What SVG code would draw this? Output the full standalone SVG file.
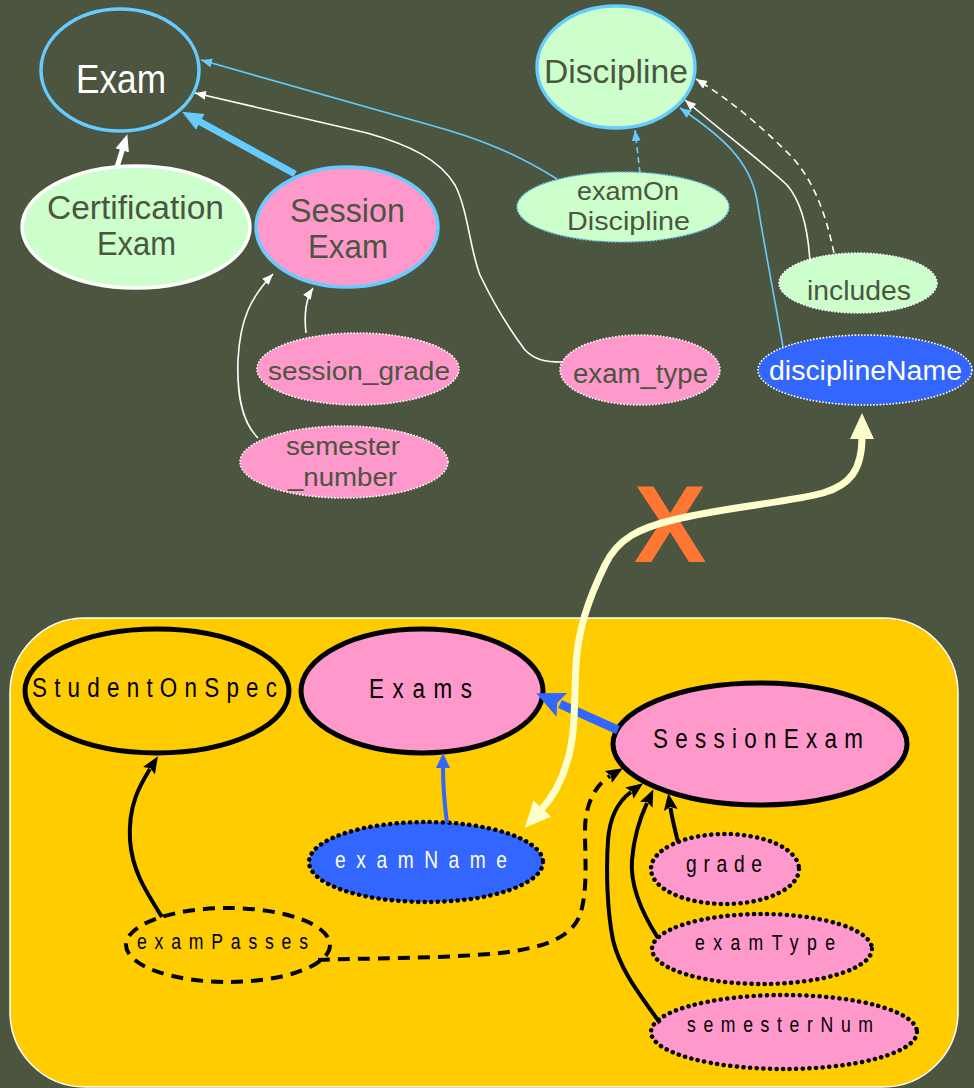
<svg xmlns="http://www.w3.org/2000/svg" width="974" height="1088" viewBox="0 0 974 1088">
  <defs>
    <style>
      .top { font-family: "Liberation Sans Narrow", "Liberation Sans", Arial, sans-serif; text-anchor: middle; }
      .dark { fill: #4b5540; }
      .light { fill: #ffffff; }
      .bot { font-family: "Liberation Sans Narrow", "Liberation Sans", Arial, sans-serif; text-anchor: middle; fill: #000; }
      .thin { fill: none; stroke-width: 1.6; }
      .wire { fill: none; stroke: #000; stroke-width: 4; }
      .dotW { stroke: #ffffff; stroke-width: 1.6; stroke-dasharray: 1.6 1.6; }
      .dotB { stroke: #66ccff; stroke-width: 1.6; stroke-dasharray: 1.6 1.6; }
      .dotK { stroke: #000; stroke-width: 4.5; stroke-dasharray: 0.1 6.5; stroke-linecap: round; }
    </style>
    <!-- small heads: tip sits on the path end -->
    <marker id="hW" markerWidth="12" markerHeight="10" refX="11" refY="4.5" orient="auto" markerUnits="userSpaceOnUse"><path d="M0,0 L11,4.5 L0,9 z" fill="#ffffff"/></marker>
    <marker id="hB" markerWidth="12" markerHeight="10" refX="11" refY="4.5" orient="auto" markerUnits="userSpaceOnUse"><path d="M0,0 L11,4.5 L0,9 z" fill="#66ccff"/></marker>
    <!-- large heads: base sits on the path end -->
    <marker id="hWL" markerWidth="18" markerHeight="16" refX="1" refY="7" orient="auto" markerUnits="userSpaceOnUse"><path d="M0,0 L17,7 L0,14 z" fill="#ffffff"/></marker>
    <marker id="hBL" markerWidth="22" markerHeight="20" refX="1" refY="9" orient="auto" markerUnits="userSpaceOnUse"><path d="M0,0 L21,9 L0,18 z" fill="#66ccff"/></marker>
    <marker id="hK" markerWidth="18" markerHeight="16" refX="2" refY="7" orient="auto" markerUnits="userSpaceOnUse"><path d="M0,0 L17,7 L0,14 L3,7 z" fill="#000"/></marker>
    <marker id="hN" markerWidth="16" markerHeight="16" refX="1" refY="7" orient="auto" markerUnits="userSpaceOnUse"><path d="M0,0 L15,7 L0,14 z" fill="#3366ff"/></marker>
    <marker id="hNL" markerWidth="30" markerHeight="28" refX="2" refY="13" orient="auto" markerUnits="userSpaceOnUse"><path d="M0,0 L28,13 L0,26 L5,13 z" fill="#3366ff"/></marker>
    <marker id="hC" markerWidth="28" markerHeight="26" refX="2" refY="12" orient="auto-start-reverse" markerUnits="userSpaceOnUse"><path d="M0,0 L26,12 L0,24 z" fill="#ffffcc"/></marker>
  </defs>

  <!-- backdrop and lower panel -->
  <rect x="0" y="0" width="974" height="1088" fill="#4b5540"/>
  <rect x="10" y="618" width="948" height="469" rx="75" ry="75" fill="#ffcc00" stroke="#ffffff" stroke-width="1.5"/>

  <!-- upper model -->
  <g id="Exam">
    <ellipse cx="120" cy="70" rx="79" ry="61" fill="#4b5540" stroke="#66ccff" stroke-width="3.5"/>
    <text class="top light" x="121" y="93" font-size="41" textLength="90" lengthAdjust="spacingAndGlyphs">Exam</text>
  </g>
  <g id="CertificationExam">
    <ellipse cx="136" cy="227" rx="114" ry="61" fill="#ccffcc" stroke="#ffffff" stroke-width="3.5"/>
    <text class="top dark" x="135.5" y="219" font-size="33" textLength="177" lengthAdjust="spacingAndGlyphs">Certification</text>
    <text class="top dark" x="136.5" y="255" font-size="33" textLength="79" lengthAdjust="spacingAndGlyphs">Exam</text>
  </g>
  <g id="SessionExamTop">
    <ellipse cx="347" cy="227" rx="91" ry="60" fill="#ff99cc" stroke="#66ccff" stroke-width="3.5"/>
    <text class="top dark" x="347.5" y="222" font-size="34" textLength="115" lengthAdjust="spacingAndGlyphs">Session</text>
    <text class="top dark" x="348" y="258" font-size="34" textLength="80" lengthAdjust="spacingAndGlyphs">Exam</text>
  </g>
  <g id="Discipline">
    <ellipse cx="616" cy="67" rx="79" ry="61" fill="#ccffcc" stroke="#66ccff" stroke-width="3.5"/>
    <text class="top dark" x="616" y="83" font-size="33" textLength="144" lengthAdjust="spacingAndGlyphs">Discipline</text>
  </g>
  <g id="examOnDiscipline">
    <ellipse cx="623" cy="207" rx="106" ry="35" fill="#ccffcc" class="dotB"/>
    <text class="top dark" x="628" y="200" font-size="25" textLength="102" lengthAdjust="spacingAndGlyphs">examOn</text>
    <text class="top dark" x="628.5" y="230" font-size="25" textLength="123" lengthAdjust="spacingAndGlyphs">Discipline</text>
  </g>
  <g id="includes">
    <ellipse cx="858" cy="283" rx="79" ry="30" fill="#ccffcc" class="dotW"/>
    <text class="top dark" x="859" y="300" font-size="28" textLength="104" lengthAdjust="spacingAndGlyphs">includes</text>
  </g>
  <g id="disciplineName">
    <ellipse cx="865" cy="370" rx="107" ry="35" fill="#3366ff" class="dotW"/>
    <text class="top light" x="865.5" y="380" font-size="27" textLength="193" lengthAdjust="spacingAndGlyphs">disciplineName</text>
  </g>
  <g id="exam_type">
    <ellipse cx="640" cy="370" rx="80" ry="35" fill="#ff99cc" class="dotW"/>
    <text class="top dark" x="640.5" y="383" font-size="27" textLength="135" lengthAdjust="spacingAndGlyphs">exam_type</text>
  </g>
  <g id="session_grade">
    <ellipse cx="358" cy="369" rx="101" ry="36" fill="#ff99cc" class="dotW"/>
    <text class="top dark" x="359" y="380" font-size="26" textLength="182" lengthAdjust="spacingAndGlyphs">session_grade</text>
  </g>
  <g id="semester_number">
    <ellipse cx="344" cy="462" rx="104" ry="36" fill="#ff99cc" class="dotW"/>
    <text class="top dark" x="343" y="455" font-size="26" textLength="114" lengthAdjust="spacingAndGlyphs">semester</text>
    <text class="top dark" x="342.5" y="486" font-size="26" textLength="109" lengthAdjust="spacingAndGlyphs">_number</text>
  </g>

  <!-- lower model: labels use narrowed, widely tracked glyphs -->
  <g id="StudentOnSpec">
    <ellipse cx="157" cy="691" rx="132" ry="62" fill="none" stroke="#000" stroke-width="5"/>
    <text class="bot" transform="scale(0.8,1)" x="193.1" y="697" font-size="28" textLength="306.3">StudentOnSpec</text>
  </g>
  <g id="Exams">
    <ellipse cx="422" cy="691" rx="121" ry="62" fill="#ff99cc" stroke="#000" stroke-width="5"/>
    <text class="bot" transform="scale(0.8,1)" x="525.6" y="698" font-size="28" textLength="128.8">Exams</text>
  </g>
  <g id="SessionExam">
    <ellipse cx="760" cy="744" rx="147" ry="61" fill="#ff99cc" stroke="#000" stroke-width="5"/>
    <text class="bot" transform="scale(0.8,1)" x="947.5" y="748" font-size="28" textLength="262.5">SessionExam</text>
  </g>
  <g id="examName">
    <ellipse cx="426" cy="862" rx="117" ry="40" fill="#3366ff" class="dotK"/>
    <text class="bot" transform="scale(0.8,1)" x="526.3" y="868" font-size="24" textLength="215" style="fill:#ffffff">examName</text>
  </g>
  <g id="examPasses">
    <ellipse cx="228" cy="945" rx="102" ry="37" fill="none" stroke="#000" stroke-width="4" stroke-dasharray="12 8"/>
    <text class="bot" transform="scale(0.8,1)" x="278.1" y="949" font-size="22" textLength="213.8">examPasses</text>
  </g>
  <g id="grade">
    <ellipse cx="725" cy="869" rx="74" ry="35" fill="#ff99cc" class="dotK"/>
    <text class="bot" transform="scale(0.8,1)" x="905" y="872" font-size="24" textLength="95">grade</text>
  </g>
  <g id="examType">
    <ellipse cx="762" cy="949" rx="110" ry="35" fill="#ff99cc" class="dotK"/>
    <text class="bot" transform="scale(0.8,1)" x="956.3" y="950" font-size="22" textLength="175">examType</text>
  </g>
  <g id="semesterNum">
    <ellipse cx="784" cy="1032" rx="133" ry="37" fill="#ff99cc" class="dotK"/>
    <text class="bot" transform="scale(0.8,1)" x="975" y="1032" font-size="22" textLength="232.5">semesterNum</text>
  </g>

  <!-- crossed-out mapping mark -->
  <text id="mismatch" x="670" y="562" font-family="Liberation Sans, Arial, sans-serif" font-weight="bold" font-size="109" fill="#ff7733" text-anchor="middle">X</text>

  <g id="connectors">
    <!-- upper: subclass links -->
    <path d="M117,167 L122.5,149.5" fill="none" stroke="#ffffff" stroke-width="5" marker-end="url(#hWL)"/>
    <path d="M295,174 L199.5,121.5" fill="none" stroke="#66ccff" stroke-width="7" marker-end="url(#hBL)"/>
    <!-- upper: property links -->
    <path class="thin" stroke="#66ccff" d="M557,179 C520,156 485,140 430,125 L201,60" marker-end="url(#hB)"/>
    <path class="thin" stroke="#ffffff" d="M562,362 C545,362 535,360 525,350 C510,330 492,300 480,275 C470,250 468,210 455,185 C440,160 410,145 367,133 L195,93" marker-end="url(#hW)"/>
    <path class="thin" stroke="#ffffff" d="M306,333 C304,315 305,300 313,288" marker-end="url(#hW)"/>
    <path class="thin" stroke="#ffffff" d="M258,438 C240,420 237,390 238,360 C240,320 250,298 273,274" marker-end="url(#hW)"/>
    <path class="thin" stroke="#66ccff" stroke-dasharray="6 4" d="M640,173 L635,130" marker-end="url(#hB)"/>
    <path class="thin" stroke="#66ccff" d="M783,347 C775,300 765,250 757,200 C750,160 720,135 680,108" marker-end="url(#hB)"/>
    <path class="thin" stroke="#ffffff" d="M810,263 C808,225 800,200 787,185 C760,160 720,130 685,100" marker-end="url(#hW)"/>
    <path class="thin" stroke="#ffffff" stroke-dasharray="7 5" d="M834,253 C825,210 812,178 790,155 C760,125 730,100 696,79" marker-end="url(#hW)"/>

    <!-- lower: subclass and attribute links -->
    <path d="M618,730 L560,704" fill="none" stroke="#3366ff" stroke-width="9" marker-end="url(#hNL)"/>
    <path d="M447,823 C444,800 443,785 443,767" fill="none" stroke="#3366ff" stroke-width="4" marker-end="url(#hN)"/>
    <path class="wire" d="M678,842 C675,830 672,818 670.5,808" marker-end="url(#hK)"/>
    <path class="wire" d="M658,938 C640,910 630,885 632,860 C634,835 640,818 647,803" marker-end="url(#hK)"/>
    <path class="wire" d="M660,1023 C640,995 620,970 613,940 C607,910 606,870 608,840 C610,815 620,800 631,792" marker-end="url(#hK)"/>
    <path class="wire" stroke-dasharray="12 8" d="M318,960 C360,958 440,959 500,953 C540,948 570,940 580,915 C588,890 585,860 585,830 C585,805 595,785 610,776" marker-end="url(#hK)"/>
    <path class="wire" d="M162,917 C145,890 132,870 130,840 C128,805 140,785 150,769" marker-end="url(#hK)"/>

    <!-- cross-model correspondence -->
    <path d="M862,437 C862,470 850,485 823,493 C790,502 720,508 673,520 C640,528 618,538 605,565 C588,600 578,630 576,665 C574,700 576,735 567,762 C562,780 552,798 541,810" fill="none" stroke="#ffffcc" stroke-width="7" marker-start="url(#hC)" marker-end="url(#hC)"/>
  </g>
</svg>
